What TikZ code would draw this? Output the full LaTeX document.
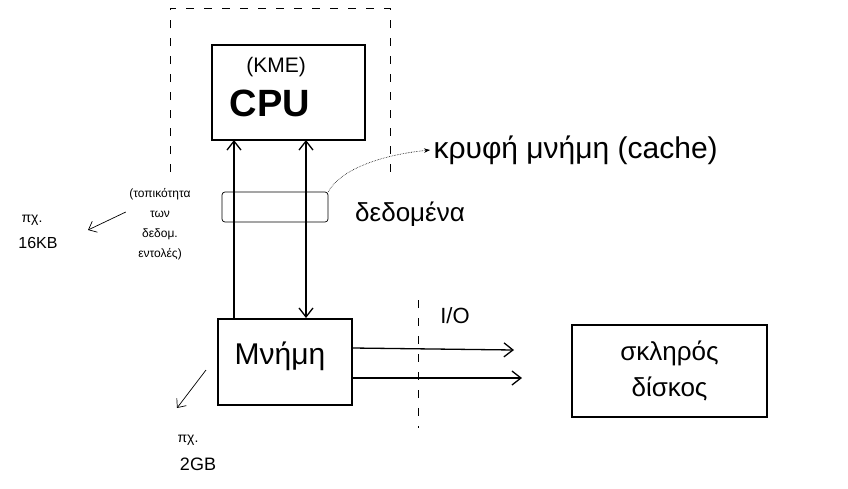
\documentclass[tikz,border=0pt]{standalone}
\usepackage{fontspec}
\setmainfont{Liberation Sans}
\usetikzlibrary{arrows.meta}
\begin{document}
\begin{tikzpicture}[x=1pt,y=-1pt,
  box/.style={draw,line width=1.6pt,inner sep=0pt},
  thinbox/.style={draw,line width=0.7pt,inner sep=0pt},
  conn/.style={line width=1.3pt,-{Straight Barb[length=9pt,width=14pt]}},
  note/.style={font=\fontsize{12}{20}\selectfont,align=center},
  dashline/.style={dashed,line width=0.6pt,dash pattern=on 8pt off 10pt}]
\useasboundingbox (0,0) rectangle (848,488);
% outer dashed region (cache)
\draw[dashline] (170,172) -- (170,8) -- (390,8) -- (390,180);
% CPU
\node[box,minimum width=153pt,minimum height=95pt] (cpu) at (288.5,92.5) {};
\node[font=\fontsize{21}{22}\selectfont] (kme) at (276,67) {(ΚΜΕ)};
\node[font=\fontsize{38}{40}\selectfont\bfseries] (cpulabel) at (270,103) {CPU};
% Memory
\node[box,minimum width=134pt,minimum height=86pt] (mem) at (285,362) {};
\node[font=\fontsize{30}{32}\selectfont] (memlabel) at (280,356) {Μνήμη};
% Disk
\node[box,minimum width=195pt,minimum height=92pt,align=center,
  font=\fontsize{26}{36}\selectfont] (disk) at (669.5,371) {σκληρός\\δίσκος};
% data paths
\draw[conn] (234,319) -- (234,140);
\draw[line width=1.3pt,{Straight Barb[length=9pt,width=14pt]}-{Straight Barb[length=9pt,width=14pt]}] (306,140) -- (306,318);
% cache box
\node[thinbox,minimum width=106pt,minimum height=30pt,rounded corners=3pt] (cache) at (275,207) {};
\node[font=\fontsize{26}{28}\selectfont] (data) at (410,214) {δεδομένα};
\node[font=\fontsize{30}{32}\selectfont,anchor=west] (cachelabel) at (430,150) {κρυφή μνήμη (cache)};
\draw[densely dotted,line width=0.6pt,-{Stealth[length=6pt]}] (cache.north east) .. controls (340,170) and (380,155) .. (cachelabel.west);
% left note
\node[note] (loc) at (160,224) {(τοπικότητα\\ των\\ δεδομ.\\ εντολές)};
\coordinate (locend) at (88,230);
\draw[line width=0.7pt,-{Straight Barb[length=7pt,width=12pt]}] (loc.west) ++(0,-12) -- (locend);
\node[font=\fontsize{14}{15}\selectfont] (kb1) at (32,220) {πχ.};
\node[font=\fontsize{16}{17}\selectfont] (kb2) at (38,243) {16KB};
% memory size
\coordinate (memend) at (177,408);
\draw[line width=0.7pt,-{Straight Barb[length=7pt,width=12pt]}] (206,370) -- (memend);
\node[font=\fontsize{14}{15}\selectfont] (gb1) at (188,440) {πχ.};
\node[font=\fontsize{18}{19}\selectfont] (gb2) at (198,464) {2GB};
% I/O
\coordinate (io1) at (514,350);
\coordinate (io2) at (522,378);
\draw[conn] (mem.east |- 0,348) -- (io1);
\draw[conn] (mem.east |- 0,378) -- (io2);
\draw[dashline] (418,300) -- (418,428);
\node[font=\fontsize{22}{24}\selectfont] (iolabel) at (455,316) {I/O};
\end{tikzpicture}
\end{document}
